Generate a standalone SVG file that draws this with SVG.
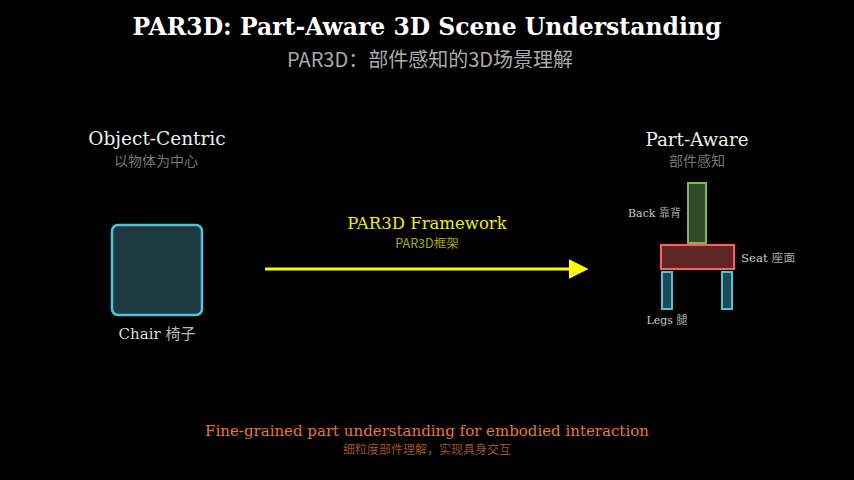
<svg xmlns="http://www.w3.org/2000/svg" width="854" height="480" viewBox="0 0 854 480">
<style>
.serif{font-family:"DejaVu Serif","Noto Sans CJK SC",serif}
.cjk{font-family:"Noto Sans CJK SC","DejaVu Sans",sans-serif}
text{text-anchor:middle}
</style>
<defs>
<marker id="ah" viewBox="0 0 10 10" refX="0" refY="5" markerWidth="6.5" markerHeight="6.5" markerUnits="strokeWidth" orient="auto">
<path d="M0,0 L10,5 L0,10 z" fill="#ffff00"/>
</marker>
</defs>
<rect width="854" height="480" fill="#000"/>
<g id="title">
<text class="serif" x="427" y="35" font-size="23.5" font-weight="bold" fill="#fff">PAR3D: Part-Aware 3D Scene Understanding</text>
<text class="cjk" x="430" y="67" font-size="20" fill="#aaaaaa">PAR3D：部件感知的3D场景理解</text>
</g>
<g id="object-centric">
<text class="serif" x="157" y="145" font-size="18.5" fill="#eee">Object-Centric</text>
<text class="cjk" x="156" y="166" font-size="14" fill="#777">以物体为中心</text>
<rect x="112" y="225" width="90" height="90" rx="6" fill="#1d3a42" stroke="#4ec3dc" stroke-width="2.5"/>
<text class="serif" x="157" y="339" font-size="15" fill="#ddd">Chair <tspan class="cjk" fill="#bbb">椅子</tspan></text>
</g>
<g id="connectors">
<line x1="265" y1="269" x2="569" y2="269" stroke="#ffff00" stroke-width="3" marker-end="url(#ah)"/>
<text class="serif" x="427" y="229" font-size="16.5" fill="#eeee00">PAR3D Framework</text>
<text class="cjk" x="427" y="248" font-size="12.5" fill="#a8a800">PAR3D框架</text>
</g>
<g id="part-aware">
<text class="serif" x="697" y="146" font-size="18.3" fill="#eee">Part-Aware</text>
<text class="cjk" x="697" y="166" font-size="14" fill="#777">部件感知</text>
</g>
<g id="back">
<rect x="688" y="183" width="18" height="60" fill="#2f4a2a" stroke="#7cb85a" stroke-width="2"/>
<text class="serif" x="681" y="217" font-size="11" fill="#ccc" style="text-anchor:end">Back <tspan class="cjk" fill="#aaa">靠背</tspan></text>
</g>
<g id="seat">
<rect x="661" y="245" width="73" height="24" fill="#5f2626" stroke="#ff6050" stroke-width="2"/>
<text class="serif" x="741" y="262" font-size="11.8" fill="#ccc" style="text-anchor:start">Seat <tspan class="cjk" fill="#aaa">座面</tspan></text>
</g>
<g id="legs">
<rect x="662" y="272" width="10" height="37" fill="#1e4a55" stroke="#4ec3dc" stroke-width="2"/>
<rect x="722" y="272" width="10" height="37" fill="#1e4a55" stroke="#4ec3dc" stroke-width="2"/>
<text class="serif" x="667" y="324" font-size="11" fill="#ccc">Legs <tspan class="cjk" fill="#aaa">腿</tspan></text>
</g>
<g id="footer">
<text class="serif" x="427" y="436" font-size="15" fill="#e8782a">Fine-grained part understanding for embodied interaction</text>
<text class="cjk" x="427" y="454" font-size="12" fill="#9a5520">细粒度部件理解，实现具身交互</text>
</g>
</svg>
